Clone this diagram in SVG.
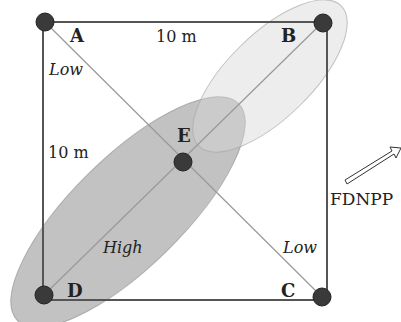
<svg xmlns="http://www.w3.org/2000/svg" width="401" height="322" viewBox="0 0 401 322">
<style>
.t{font-family:"DejaVu Serif","Liberation Serif",serif;fill:#222}
.b{font-weight:bold;font-size:18px}
.i{font-style:italic;font-size:16px}
.n{font-size:16px}
.dot{fill:#3a3a3a;stroke:#222;stroke-width:1}
.side{stroke:#555;stroke-width:2;fill:none}
.diag{stroke:#999;stroke-width:1.2;fill:none}
</style>
<rect width="401" height="322" fill="#fff"/>
<g id="zones">
<ellipse id="high-zone" cx="128" cy="212" rx="155" ry="55" transform="rotate(-44.4 128 212)" fill="#a8a8a8" fill-opacity="0.7" stroke="#888" stroke-opacity="0.6"/>
<ellipse id="low-zone" cx="270" cy="76" rx="100" ry="42" transform="rotate(-44.4 270 76)" fill="#d8d8d8" fill-opacity="0.45" stroke="#aaa" stroke-opacity="0.7"/>
</g>
<g id="connectors">
<path class="side" d="M43 22H327V300H43Z"/>
<line class="diag" x1="45" y1="22" x2="322" y2="297"/>
<line class="diag" x1="44" y1="295" x2="323" y2="22" stroke="#777"/>
</g>
<g id="A"><circle class="dot" cx="45" cy="22" r="9"/><text class="t b" x="70" y="42">A</text></g>
<g id="B"><circle class="dot" cx="323" cy="23" r="9"/><text class="t b" x="281" y="42">B</text></g>
<g id="C"><circle class="dot" cx="322" cy="297" r="9"/><text class="t b" x="281" y="297">C</text></g>
<g id="D"><circle class="dot" cx="44" cy="295" r="9"/><text class="t b" x="67" y="297">D</text></g>
<g id="E"><circle class="dot" cx="183" cy="162" r="9"/><text class="t b" x="177" y="142">E</text></g>
<g id="labels">
<text class="t n" x="156" y="42">10 m</text>
<text class="t n" x="48" y="158">10 m</text>
<text class="t i" x="49" y="75">Low</text>
<text class="t i" x="283" y="253">Low</text>
<text class="t i" x="103" y="253">High</text>
<text class="t" x="330" y="205" font-size="17">FDNPP</text>
</g>
<g id="arrow">
<path d="M345 180 L392 151 L390 147 L401 148 L396 158 L394 154 L347 184 Z" fill="#fff" stroke="#333" stroke-width="1"/>
</g>
</svg>
